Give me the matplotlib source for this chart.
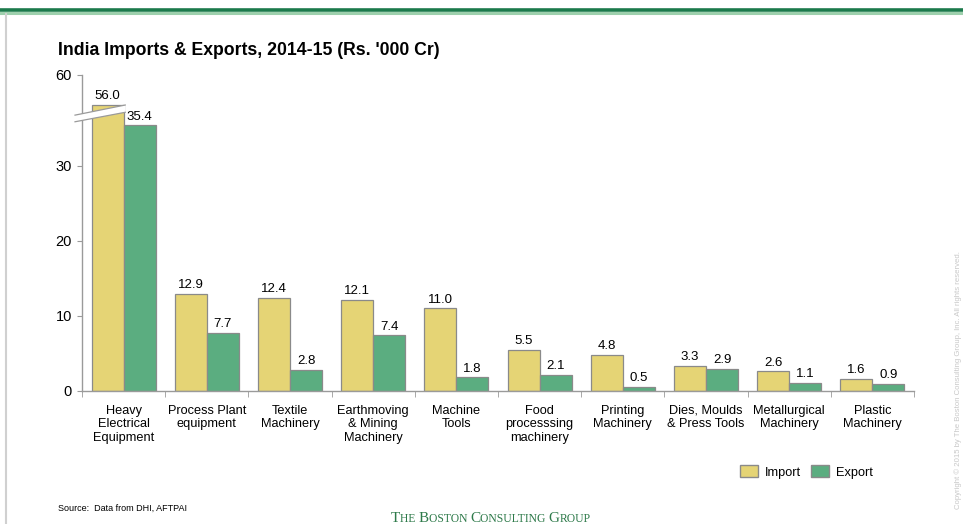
import numpy as np
import matplotlib
matplotlib.use("Agg")
import matplotlib.pyplot as plt
from matplotlib.patches import Patch, Polygon
from matplotlib.lines import Line2D
from matplotlib.text import Annotation
from matplotlib.transforms import blended_transform_factory

plt.rcParams['font.family'] = ['Liberation Sans', 'DejaVu Sans']

categories = ["Heavy\nElectrical\nEquipment", "Process Plant\nequipment", "Textile\nMachinery",
              "Earthmoving\n& Mining\nMachinery", "Machine\nTools", "Food\nprocesssing\nmachinery",
              "Printing\nMachinery", "Dies, Moulds\n& Press Tools", "Metallurgical\nMachinery",
              "Plastic\nMachinery"]
imports = [56.0, 12.9, 12.4, 12.1, 11.0, 5.5, 4.8, 3.3, 2.6, 1.6]
exports = [35.4, 7.7, 2.8, 7.4, 1.8, 2.1, 0.5, 2.9, 1.1, 0.9]
yticks = [0, 10, 20, 30, 60]
series_names = ["Import", "Export"]

IMP_C = "#E5D475"
EXP_C = "#5BAD80"
EDGE = "#8a8a8a"
AX_C = "#9a9a9a"

# broken-axis scale
B1, B2, K = 37.0, 55.0, 0.0072
def fwd(v):
    v = np.asarray(v, float)
    return np.where(v <= B1, v, np.where(v <= B2, B1 + (v - B1) * K, B1 + (B2 - B1) * K + (v - B2)))
def inv(u):
    u = np.asarray(u, float)
    m = B1 + (B2 - B1) * K
    return np.where(u <= B1, u, np.where(u <= m, B1 + (u - B1) / K, u - m + B2))

fig = plt.figure(figsize=(9.63, 5.24), dpi=100)
ax = fig.add_axes([82/963, 1-391/524, (914-82)/963, (391-75)/524])
ax.set_yscale('function', functions=(fwd, inv))

x = np.arange(len(categories))
w = 0.385
ax.bar(x - w/2, imports, w, color=IMP_C, edgecolor=EDGE, linewidth=0.9, zorder=2)
ax.bar(x + w/2, exports, w, color=EXP_C, edgecolor=EDGE, linewidth=0.9, zorder=2)
for xi, v in zip(x - w/2, imports):
    ax.annotate(f"{v:.1f}", (xi, v), xytext=(0, 2), textcoords='offset points',
                ha='center', va='bottom', fontsize=9.5)
for xi, v in zip(x + w/2, exports):
    ax.annotate(f"{v:.1f}", (xi, v), xytext=(0, 2), textcoords='offset points',
                ha='center', va='bottom', fontsize=9.5)

ax.set_xlim(-0.5, len(categories) - 0.5)
ax.set_ylim(0, 60)
ax.set_yticks(yticks)
ax.set_yticklabels([str(t) for t in yticks], fontsize=10.5)
ax.set_xticks(x)
ax.set_xticklabels(categories, fontsize=9.2, linespacing=1.15)
ax.set_xticks(np.arange(len(categories) + 1) - 0.5, minor=True)
ax.tick_params(axis='x', which='major', length=0, pad=10)
ax.tick_params(axis='x', which='minor', length=4, color=AX_C, direction='out')
ax.tick_params(axis='y', length=3.3, color=AX_C, pad=4)
for s in ['top', 'right']:
    ax.spines[s].set_visible(False)
for s in ['left', 'bottom']:
    ax.spines[s].set_color(AX_C)
    ax.spines[s].set_linewidth(1.0)

# break marker
tr = blended_transform_factory(ax.transData, ax.transAxes)
xl, xr = -0.584, 0.02
poly = Polygon([(xl, 0.852), (xr, 0.882), (xr, 0.905), (xl, 0.873)], closed=True,
               facecolor='white', edgecolor='none', transform=tr, clip_on=False, zorder=5)
ax.add_patch(poly)
ax.add_line(Line2D([xl, xr], [0.852, 0.882], color=AX_C, lw=0.9, transform=tr, clip_on=False, zorder=6))
ax.add_line(Line2D([xl, xr], [0.873, 0.905], color=AX_C, lw=0.9, transform=tr, clip_on=False, zorder=6))

# title
fig.text(58/963, 1-50.5/524, "India Imports & Exports, 2014-15 (Rs. '000 Cr)",
         fontsize=12.7, fontweight='bold', ha='left', va='center')

# legend
handles = [Patch(facecolor=IMP_C, edgecolor=EDGE, label=series_names[0]),
           Patch(facecolor=EXP_C, edgecolor=EDGE, label=series_names[1])]
fig.legend(handles=handles, loc='center left', bbox_to_anchor=(728/963, 1-472/524),
           ncol=2, frameon=False, fontsize=9.2, handlelength=1.45, handleheight=1.05,
           handletextpad=0.5, columnspacing=0.8)

# source
fig.text(58/963, 1-508/524, "Source:  Data from DHI, AFTPAI", fontsize=6.5, ha='left', va='center')

# top decoration and left border
fig.add_artist(Line2D([0, 1], [1-9.5/524, 1-9.5/524], color='#1B7A4B', lw=2.6, transform=fig.transFigure))
fig.add_artist(Line2D([0, 1], [1-12.5/524, 1-12.5/524], color='#9ED0AD', lw=2.2, transform=fig.transFigure))
fig.add_artist(Line2D([5.5/963, 5.5/963], [0, 1-14/524], color='#d0d0d0', lw=1.5, transform=fig.transFigure))

# BCG logo in small caps
GREEN = "#2E7A4A"
pieces = [("T", 11), ("HE ", 8.4), ("B", 11), ("OSTON ", 8.4), ("C", 11), ("ONSULTING ", 8.4),
          ("G", 11), ("ROUP", 8.4)]
prev = fig.text(391/963, -1.5/524, pieces[0][0], fontsize=pieces[0][1],
                family='Liberation Serif', color=GREEN, ha='left', va='bottom')
for txt, sz in pieces[1:]:
    prev = fig.add_artist(Annotation(
        txt, xy=(1, 0), xycoords=prev, xytext=(0, 0), textcoords='offset points',
        fontsize=sz, family='Liberation Serif', color=GREEN, ha='left', va='bottom'))

# copyright
fig.text(958/963, 1-380/524, "Copyright \u00a9 2015 by The Boston Consulting Group, Inc. All rights reserved.",
         rotation=90, fontsize=5.6, color='#c8c8c8', ha='center', va='center')

fig.savefig("out.png", dpi=100)
